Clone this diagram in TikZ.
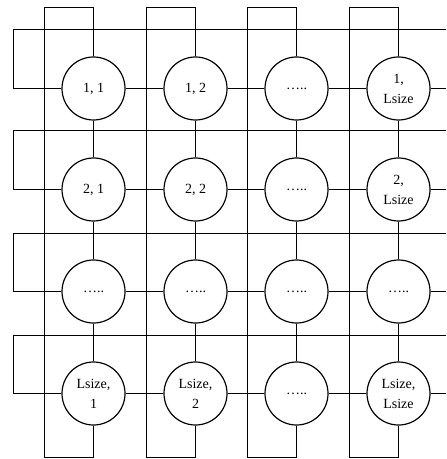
\documentclass[tikz,border=0pt]{standalone}
\usepackage{fontspec}
\setmainfont{Liberation Serif}
\tikzset{cell/.style={draw,circle,minimum size=47.25pt,inner sep=0pt,align=center,
  font=\fontsize{10.5}{15}\selectfont}}
\begin{document}
\begin{tikzpicture}[x=0.75pt,y=-0.75pt,line width=0.9pt]
\useasboundingbox (0,0) rectangle (446,459);
%%%%%%%%%%%%%%%%%%%% row 1 %%%%%%%%%%%%%%%%%%%%
\node[cell] (n11) at (93.5,88.5)  {1, 1};
\node[cell] (n12) at (195.5,88.5) {1, 2};
\node[cell] (n13) at (296.5,88.5) {…..};
\node[cell] (n14) at (398.5,88.5) {1,\\Lsize};
%%%%%%%%%%%%%%%%%%%% row 2 %%%%%%%%%%%%%%%%%%%%
\node[cell] (n21) at (93.5,189.5)  {2, 1};
\node[cell] (n22) at (195.5,189.5) {2, 2};
\node[cell] (n23) at (296.5,189.5) {…..};
\node[cell] (n24) at (398.5,189.5) {2,\\Lsize};
%%%%%%%%%%%%%%%%%%%% row 3 %%%%%%%%%%%%%%%%%%%%
\node[cell] (n31) at (93.5,291.5)  {…..};
\node[cell] (n32) at (195.5,291.5) {…..};
\node[cell] (n33) at (296.5,291.5) {…..};
\node[cell] (n34) at (398.5,291.5) {…..};
%%%%%%%%%%%%%%%%%%%% row Lsize %%%%%%%%%%%%%%%%%%%%
\node[cell] (n41) at (93.5,393.5)  {Lsize,\\1};
\node[cell] (n42) at (195.5,393.5) {Lsize,\\2};
\node[cell] (n43) at (296.5,393.5) {…..};
\node[cell] (n44) at (398.5,393.5) {Lsize,\\Lsize};
%%%%%%%%%%%%%%%%%%%% neighbour links %%%%%%%%%%%%%%%%%%%%
\foreach \r in {1,...,4}{
  \foreach \c/\d in {1/2,2/3,3/4}{
    \draw (n\r\c.east) -- (n\r\d.west);
    \draw (n\c\r.south) -- (n\d\r.north);
  }
}
%%%%%%%%%%%%%%%%%%%% wrap-around of the rows %%%%%%%%%%%%%%%%%%%%
\foreach \r/\cy/\hy in {1/88.5/29.5,2/189.5/130.5,3/291.5/233.5,4/393.5/335.5}{
  \coordinate (wl\r) at (13.5,\hy);
  \coordinate (wr\r) at (446,\hy);
  \coordinate (er\r) at (446,\cy);
  \draw (n\r1.west) -| (wl\r) -- (wr\r);
  \draw (n\r4.east) -- (er\r);
}
%%%%%%%%%%%%%%%%%%%% wrap-around of the columns %%%%%%%%%%%%%%%%%%%%
\foreach \c/\vx in {1/44.5,2/146.5,3/247.5,4/349.5}{
  \coordinate (wt\c) at (\vx,7.5);
  \coordinate (wb\c) at (\vx,457.5);
  \draw (n1\c.north) |- (wt\c) -- (wb\c) -| (n4\c.south);
}
\end{tikzpicture}
\end{document}
